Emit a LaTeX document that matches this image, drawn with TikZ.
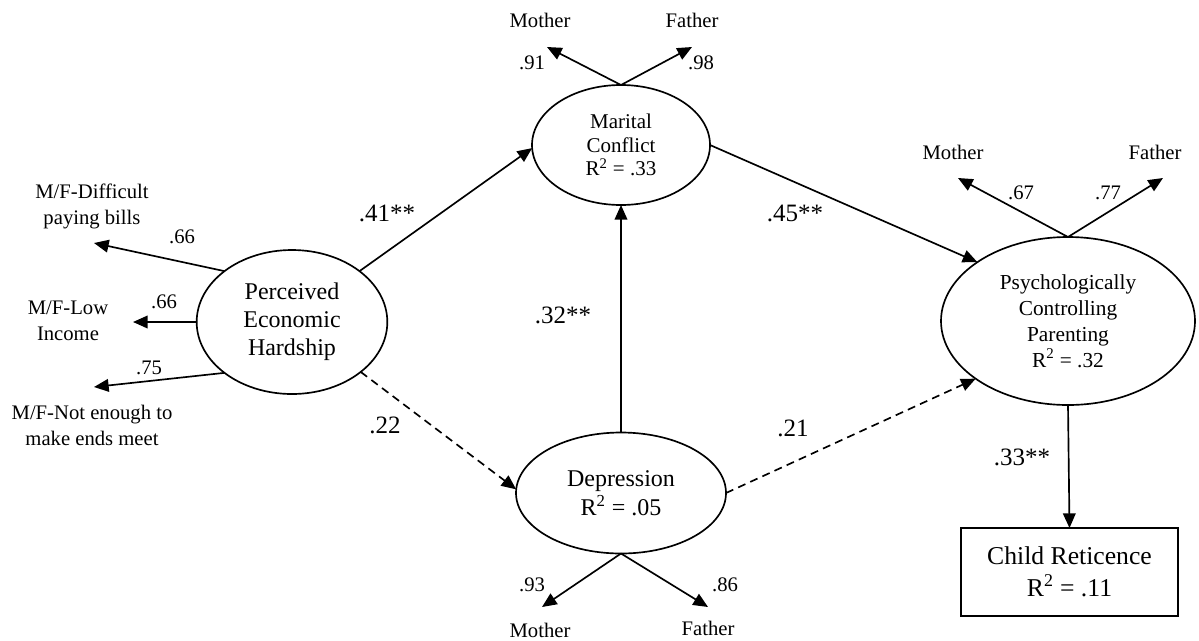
\documentclass[tikz,border=0pt]{standalone}
\usepackage{fontspec}
\setmainfont{Liberation Serif}
\usetikzlibrary{shapes.geometric,arrows.meta}
\begin{document}
\begin{tikzpicture}[x=0.75pt,y=-0.75pt,
  every node/.style={inner sep=0pt, outer sep=0pt},
  small/.style={font=\fontsize{15.5pt}{19.5pt}\selectfont, align=center},
  coef/.style={font=\fontsize{18.75pt}{21pt}\selectfont},
  latent/.style={ellipse, draw, line width=1.25pt, align=center},
  measured/.style={rectangle, draw, line width=1.25pt, align=center},
  link/.style={line width=1.25pt, -{Triangle[length=11pt,width=9.5pt]}},
  weak/.style={link, dash pattern=on 6pt off 4pt}]
\useasboundingbox (0,0) rectangle (1199,640);

% latent constructs and outcome
\node[latent, minimum width=143pt, minimum height=108pt,
      font=\fontsize{18pt}{21pt}\selectfont] (perc) at (292,322)
      {Perceived\\Economic\\Hardship};
\node[latent, minimum width=133.5pt, minimum height=90pt,
      font=\fontsize{15.75pt}{17.6pt}\selectfont] (mar) at (621,145)
      {Marital\\Conflict\\R\textsuperscript{2} = .33};
\node[latent, minimum width=190.5pt, minimum height=126pt,
      font=\fontsize{16pt}{19.5pt}\selectfont] (psy) at (1068,321)
      {Psychologically\\Controlling\\Parenting\\R\textsuperscript{2} = .32};
\node[latent, minimum width=157.5pt, minimum height=90.75pt,
      font=\fontsize{18pt}{21.75pt}\selectfont] (dep) at (621,493)
      {Depression\\R\textsuperscript{2} = .05};
\node[measured, minimum width=162.75pt, minimum height=66pt,
      font=\fontsize{19.25pt}{24pt}\selectfont] (child) at (1069.5,572)
      {Child Reticence\\R\textsuperscript{2} = .11};

% indicator labels
\node[small] (pbL) at (92,206) {M/F-Difficult\\paying bills};
\node[small] (liL) at (68,321) {M/F-Low\\Income};
\node[small] (neL) at (92,425) {M/F-Not enough to\\make ends meet};
\node[small] (mmL) at (540,20) {Mother};
\node[small] (mfL) at (692,20) {Father};
\node[small] (pmL) at (953,152) {Mother};
\node[small] (pfL) at (1155,152) {Father};
\node[small] (dmL) at (540,630) {Mother};
\node[small] (dfL) at (708,628) {Father};

% arrow tips of the indicator paths
\coordinate (pbT) at (94,243);
\coordinate (liT) at (133,322);
\coordinate (neT) at (94,387);
\coordinate (mmT) at (547,47);
\coordinate (mfT) at (692,47);
\coordinate (pmT) at (958,178);
\coordinate (pfT) at (1163,178);
\coordinate (dmT) at (542,607);
\coordinate (dfT) at (708,607);

% loadings
\node[small] (l1) at (182,237) {.66};
\node[small] (l2) at (164,302) {.66};
\node[small] (l3) at (149,368) {.75};
\node[small] (l4) at (532,63) {.91};
\node[small] (l5) at (701,63) {.98};
\node[small] (l6) at (1021,193) {.67};
\node[small] (l7) at (1108,193) {.77};
\node[small] (l8) at (532,585) {.93};
\node[small] (l9) at (725,585) {.86};

% indicator paths
\draw[link] (perc.143) -- (pbT);
\draw[link] (perc.west) -- (liT);
\draw[link] (perc.217) -- (neT);
\draw[link] (mar.north) -- (mmT);
\draw[link] (mar.north) -- (mfT);
\draw[link] (psy.north) -- (pmT);
\draw[link] (psy.north) -- (pfT);
\draw[link] (dep.south) -- (dmT);
\draw[link] (dep.south) -- (dfT);

% structural paths
\draw[link] (perc.37) -- (mar.182);
\draw[link] (mar.east) -- (psy.147);
\draw[link] (dep.north) -- (mar.south);
\draw[weak] (perc.324) -- (dep.178);
\draw[weak] (dep.east) -- (psy.212);
\draw[link] (psy.south) -- (child.north);

% path coefficients
\node[coef] (c1) at (387,213) {.41**};
\node[coef] (c2) at (795,213) {.45**};
\node[coef] (c3) at (563,315) {.32**};
\node[coef] (c4) at (385,425) {.22};
\node[coef] (c5) at (793,428) {.21};
\node[coef] (c6) at (1022,457) {.33**};
\end{tikzpicture}
\end{document}
